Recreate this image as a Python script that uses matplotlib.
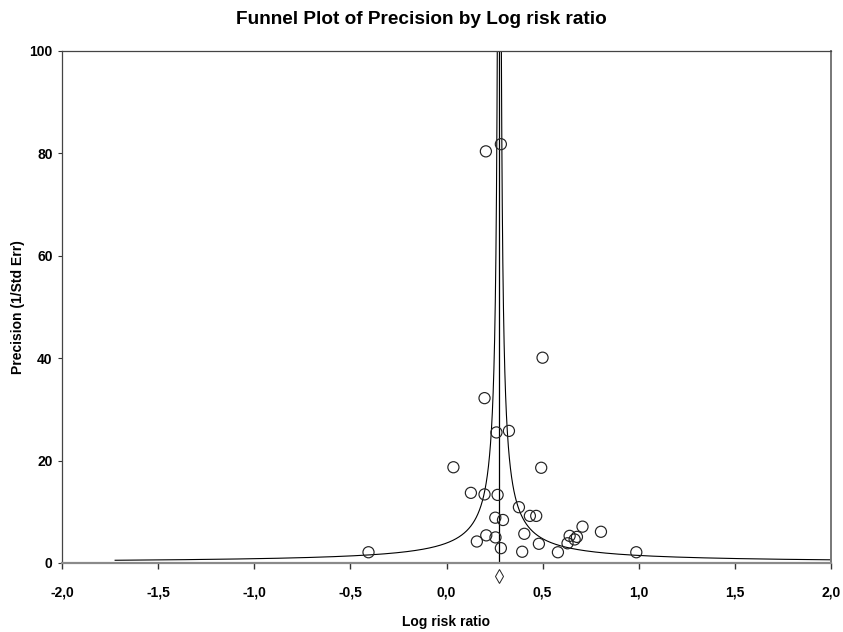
import numpy as np
import matplotlib
matplotlib.use("Agg")
import matplotlib.pyplot as plt

plt.rcParams['font.family'] = ['Liberation Sans', 'DejaVu Sans']

# Study data: log risk ratio and precision (1/SE)
log_rr = [-0.406, 0.036, 0.493, 0.127, 0.198, 0.266, 0.377, 0.434, 0.467, 0.254,
          0.294, 0.708, 0.804, 0.405, 0.207, 0.255, 0.641, 0.679, 0.667, 0.630,
          0.158, 0.481, 0.283, 0.394, 0.580, 0.988, 0.198, 0.260, 0.325, 0.500,
          0.205, 0.283]
precision = [2.1, 18.7, 18.6, 13.7, 13.4, 13.3, 10.9, 9.2, 9.2, 8.85,
             8.4, 7.1, 6.1, 5.7, 5.4, 5.0, 5.3, 5.1, 4.6, 3.85,
             4.2, 3.75, 2.9, 2.2, 2.1, 2.1, 32.2, 25.5, 25.8, 40.1,
             80.4, 81.8]

mean_effect = 0.275
funnel_const = 1.07
funnel_min_precision = 0.535

x_ticks = [-2.0, -1.5, -1.0, -0.5, 0.0, 0.5, 1.0, 1.5, 2.0]
x_tick_labels = ["-2,0", "-1,5", "-1,0", "-0,5", "0,0", "0,5", "1,0", "1,5", "2,0"]
y_ticks = [0, 20, 40, 60, 80, 100]

fig = plt.figure(figsize=(8.43, 6.32), dpi=100)
ax = fig.add_axes([62.3 / 843, (632 - 563) / 632, (830.7 - 62.3) / 843, (563 - 51) / 632])

# funnel limits
p = np.geomspace(funnel_min_precision, 100, 600)
ax.plot(mean_effect - funnel_const / p, p, color='black', lw=0.8)
ax.plot(mean_effect + funnel_const / p, p, color='black', lw=0.8)
ax.plot([mean_effect, mean_effect], [0, 100], color='black', lw=0.9)

ax.scatter(log_rr, precision, s=64, facecolors='none', edgecolors='#222222',
           linewidths=0.85, zorder=3)

# summary diamond below axis
ax.plot([mean_effect], [-2.5], marker='d', markersize=7.5, markerfacecolor='white',
        markeredgecolor='#222222', markeredgewidth=0.7, clip_on=False, zorder=4)

ax.set_xlim(-2, 2)
ax.set_ylim(0, 100)
ax.set_xticks(x_ticks)
ax.set_xticklabels(x_tick_labels)
ax.set_yticks(y_ticks)
for lab in ax.get_xticklabels() + ax.get_yticklabels():
    lab.set_fontweight('bold')
    lab.set_fontsize(10)

ax.tick_params(axis='x', direction='out', length=4, width=1, color='#333333', pad=12)
ax.tick_params(axis='y', direction='out', length=3, width=0.8, color='#333333', pad=4)

ax.spines['bottom'].set_color('#8a8a8a')
ax.spines['bottom'].set_linewidth(1.6)
ax.spines['right'].set_color('#777777')
ax.spines['right'].set_linewidth(1.4)
ax.spines['top'].set_color('#444444')
ax.spines['top'].set_linewidth(0.9)
ax.spines['left'].set_color('#444444')
ax.spines['left'].set_linewidth(0.9)

fig.text(0.5, 1 - 19 / 632, "Funnel Plot of Precision by Log risk ratio",
         ha='center', va='center', fontsize=13.7, fontweight='bold')
fig.text((62.3 + 830.7) / 2 / 843, 1 - 622 / 632, "Log risk ratio",
         ha='center', va='center', fontsize=10, fontweight='bold')
fig.text(18 / 843, 1 - 307 / 632, "Precision (1/Std Err)", rotation=90,
         ha='center', va='center', fontsize=10, fontweight='bold')

fig.savefig("out.png", dpi=100, facecolor='white')
